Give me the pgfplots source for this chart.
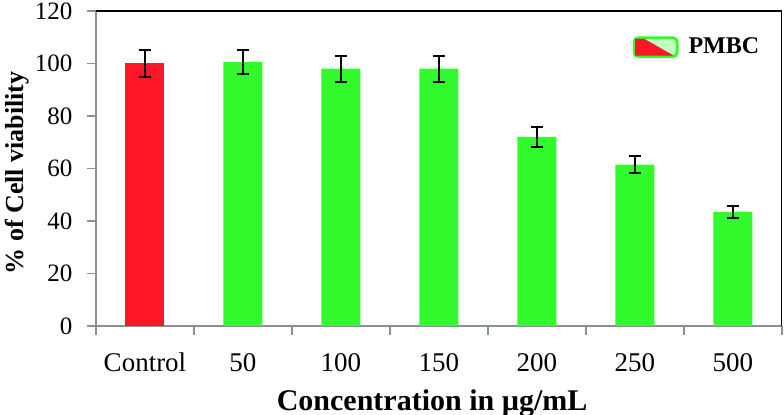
\documentclass[border=0pt]{standalone}
\usepackage{fontspec}
\setmainfont{Liberation Serif}
\usepackage{pgfplots}
\pgfplotsset{compat=1.18}
\definecolor{barRed}{RGB}{252,22,38}
\definecolor{barGreen}{RGB}{50,250,45}
\definecolor{axGray}{RGB}{135,145,150}

\begin{document}
\begin{tikzpicture}
\path[use as bounding box] (-48pt,-44.5pt) rectangle (344pt,163pt);
\begin{axis}[scale only axis,width=343pt,height=157.5pt,at={(0,0)},anchor=south west,
  ybar,bar width=19.5pt,bar shift=0pt,
  xmin=-0.5,xmax=6.5,ymin=0,ymax=120,ytick={0,20,...,120},
  xtick={-0.5,0.5,...,6.5},xticklabels={Control,50,100,150,200,250,500},
  x tick label as interval,
  axis x line*=bottom,axis y line*=left,
  axis line style={axGray,line width=0.8pt,-},
  tick align=outside,major tick length=4.5pt,
  tick style={axGray,line width=0.8pt},
  /pgf/number format/assume math mode=true,
  xticklabel style={font=\fontsize{13.5}{15}\selectfont,anchor=base,yshift=-18.5pt},
  yticklabel style={font=\fontsize{12.5}{14}\selectfont,xshift=-3.8pt},
  xlabel={\bfseries Concentration in µg/mL},
  ylabel={\bfseries \% of Cell viability},
  xlabel style={font=\fontsize{15}{17}\selectfont,at={(axis description cs:0.49,0)},anchor=base,yshift=-42.5pt},
  ylabel style={font=\fontsize{13}{15}\selectfont,at={(axis description cs:-0.115,0.486)},anchor=center},
  legend style={draw=none,fill=none,at={(0.982,0.885)},anchor=east,
    font=\fontsize{12}{14}\selectfont\bfseries},
  error bars/error bar style={black,line width=1pt},
  error bars/error mark options={black,line width=1pt,mark size=3pt,rotate=90},
]
\addlegendimage{legend image code/.code={
  \draw[line width=1.4pt,barGreen,rounded corners=2pt,fill=barGreen!30!white] (0pt,-4.7pt) rectangle (21.5pt,4.7pt);
  \fill[barRed] (0.7pt,-4pt) -- (0.7pt,4pt) -- (5pt,4pt) -- (19pt,-4pt) -- cycle;
  \path (25pt,0pt);
}}
\addlegendentry{PMBC}
\addplot[fill=barRed,draw=none,forget plot,
  error bars/.cd,y dir=both,y explicit]
  coordinates {(0,100) +- (0,5)};
\addplot[fill=barGreen,draw=none,forget plot,
  error bars/.cd,y dir=both,y explicit]
  coordinates {(1,100.5) +- (0,4.5) (2,98) +- (0,5) (3,98) +- (0,5)
    (4,72) +- (0,3.8) (5,61.5) +- (0,3.2) (6,43.5) +- (0,2.3)};
\draw[black,line width=0.8pt] (rel axis cs:0,1) -- (rel axis cs:1,1) -- (rel axis cs:1,0);
\end{axis}
\end{tikzpicture}
\end{document}
